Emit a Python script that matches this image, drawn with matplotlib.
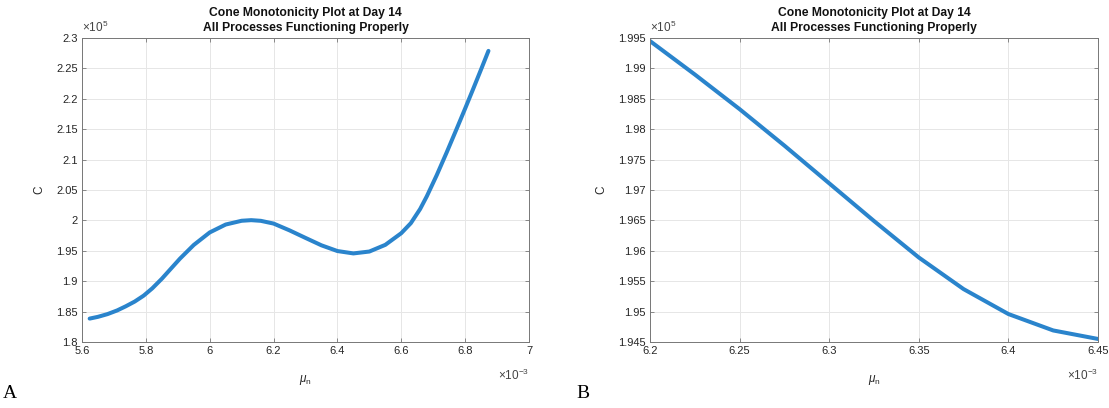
import matplotlib
matplotlib.use("Agg")
import matplotlib.pyplot as plt

plt.rcParams["font.family"] = ["Liberation Sans", "DejaVu Sans"]
plt.rcParams["mathtext.fontset"] = "custom"
plt.rcParams["mathtext.rm"] = "Liberation Sans"
plt.rcParams["mathtext.it"] = "Liberation Sans:italic"

# panel A: mu_n (x1e-3) vs C (x1e5)
mu_a = [5.624, 5.65, 5.68, 5.71, 5.737, 5.765, 5.793, 5.82, 5.85, 5.88,
        5.907, 5.95, 6.0, 6.05, 6.1, 6.13, 6.16, 6.2, 6.25, 6.3,
        6.35, 6.4, 6.45, 6.5, 6.55, 6.6, 6.63, 6.659, 6.68, 6.711,
        6.742, 6.774, 6.8, 6.826, 6.852, 6.873]
c_a = [1.8385, 1.8414, 1.8459, 1.8519, 1.8587, 1.8665, 1.8762, 1.8882, 1.904, 1.9215,
       1.9372, 1.9596, 1.9802, 1.9932, 1.9994, 2.0004, 1.9993, 1.9948, 1.9836, 1.9712,
       1.959, 1.9496, 1.9457, 1.9488, 1.9598, 1.979, 1.9955, 2.0187, 2.0397, 2.0744,
       2.1116, 2.1513, 2.184, 2.2173, 2.2511, 2.2788]

# panel B: zoom on 6.2 .. 6.45
mu_b = [6.2, 6.225, 6.25, 6.275, 6.3, 6.325, 6.35, 6.375, 6.4, 6.425, 6.45]
c_b = [1.9945, 1.989, 1.9833, 1.9773, 1.9711, 1.9649, 1.9589, 1.9537, 1.9496, 1.9469, 1.9455]

xticks_a = [5.6, 5.8, 6, 6.2, 6.4, 6.6, 6.8, 7]
yticks_a = [1.8, 1.85, 1.9, 1.95, 2, 2.05, 2.1, 2.15, 2.2, 2.25, 2.3]
xticks_b = [6.2, 6.25, 6.3, 6.35, 6.4, 6.45]
yticks_b = [1.945, 1.95, 1.955, 1.96, 1.965, 1.97, 1.975, 1.98, 1.985, 1.99, 1.995]

title = "Cone Monotonicity Plot at Day 14\nAll Processes Functioning Properly"
line_col = "#2a84cc"
txt_col = "#262626"
ax_col = "#777777"

fig = plt.figure(figsize=(11.09, 4.08), dpi=100)
W, H = 1109, 408


def panel(rect, x, y, xt, yt, letter, letter_x):
    ax = fig.add_axes(rect)
    ax.plot(x, y, "-", color=line_col, lw=2.9, solid_capstyle="round",
            solid_joinstyle="round")
    ax.set_xlim(xt[0], xt[-1])
    ax.set_ylim(yt[0], yt[-1])
    ax.set_xticks(xt)
    ax.set_yticks(yt)
    ax.set_xticklabels([f"{v:g}" for v in xt])
    ax.set_yticklabels([f"{v:g}" for v in yt])
    ax.grid(True, color="#e6e6e6", lw=0.7)
    ax.set_axisbelow(True)
    ax.tick_params(direction="in", length=3, width=0.6, color=ax_col,
                   labelsize=8, labelcolor=txt_col, top=True, right=True, pad=3)
    for s in ax.spines.values():
        s.set_color(ax_col)
        s.set_linewidth(0.7)
    ax.set_title(title, fontsize=8.7, fontweight="bold", color="#111111",
                 pad=5, linespacing=1.35)
    ax.set_xlabel(r"$\mu_{\rm n}$", fontsize=8.5, color=txt_col, labelpad=12)
    ax.set_ylabel("C", fontsize=8.5, color=txt_col, labelpad=8)
    ax.text(0, 1.01, r"$\times10^{5}$", transform=ax.transAxes, fontsize=8.5,
            color="#444444", ha="left", va="bottom")
    ax.text(1, -0.085, r"$\times10^{-3}$", transform=ax.transAxes, fontsize=8.5,
            color="#444444", ha="right", va="top")
    fig.text(letter_x / W, 1 - 398 / H, letter, family="Liberation Serif",
             fontsize=14, ha="left", va="baseline", color="black")
    return ax


panel([82 / W, 66 / H, 447 / W, 304 / H], mu_a, c_a, xticks_a, yticks_a, "A", 3)
panel([650 / W, 66 / H, 448 / W, 304 / H], mu_b, c_b, xticks_b, yticks_b, "B", 576)

fig.savefig("out.png", dpi=100)
